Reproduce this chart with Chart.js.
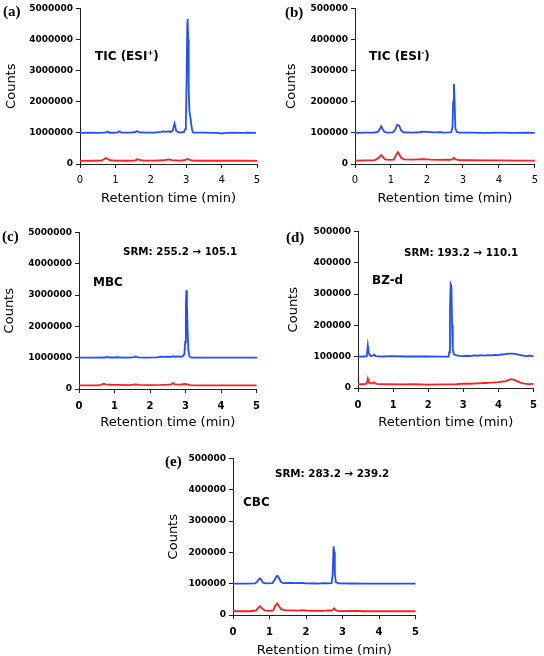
<!DOCTYPE html>
<html>
<head>
<meta charset="utf-8">
<script src="https://cdn.jsdelivr.net/npm/chart.js@4.4.0/dist/chart.umd.min.js"></script>
<style>
  body { margin: 0; background: #fff; }
  #wrap { position: relative; width: 544px; height: 656px; overflow: hidden; }
  .panel { position: absolute; }
  .lbl { position: absolute; font-family: "Liberation Serif", serif; font-weight: bold; font-size: 15px; transform: translateY(-50%); white-space: nowrap; }
  .note { position: absolute; font-family: "DejaVu Sans", sans-serif; font-weight: bold; color: #000; transform: translateY(-50%); white-space: nowrap; }
  .note sup { font-size: 7px; vertical-align: 5px; }
</style>
</head>
<body>
<div id="wrap">
  <div class="panel" id="pa"><canvas id="ca"></canvas></div>
  <div class="panel" id="pb"><canvas id="cb"></canvas></div>
  <div class="panel" id="pc"><canvas id="cc"></canvas></div>
  <div class="panel" id="pd"><canvas id="cd"></canvas></div>
  <div class="panel" id="pe"><canvas id="ce"></canvas></div>

  <div class="lbl" style="left:3px;top:11px">(a)</div>
  <div class="note" style="left:95px;top:56px;font-size:12px">TIC (ESI<sup>+</sup>)</div>

  <div class="lbl" style="left:285px;top:12px">(b)</div>
  <div class="note" style="left:369px;top:56px;font-size:12px">TIC (ESI<sup>-</sup>)</div>

  <div class="lbl" style="left:2px;top:236px">(c)</div>
  <div class="note" style="left:123px;top:251px;font-size:10.3px">SRM: 255.2 → 105.1</div>
  <div class="note" style="left:93px;top:282px;font-size:12px">MBC</div>

  <div class="lbl" style="left:286px;top:237px">(d)</div>
  <div class="note" style="left:404px;top:252px;font-size:10.3px">SRM: 193.2 → 110.1</div>
  <div class="note" style="left:372px;top:280px;font-size:12px">BZ-d</div>

  <div class="lbl" style="left:165px;top:461px">(e)</div>
  <div class="note" style="left:275px;top:473px;font-size:10.3px">SRM: 283.2 → 239.2</div>
  <div class="note" style="left:243px;top:502px;font-size:12px">CBC</div>
</div>
<script>
// tick values
const xTicks = [0, 1, 2, 3, 4, 5];
const yTicksBig = [0, 1000000, 2000000, 3000000, 4000000, 5000000];
const yTicksSmall = [0, 100000, 200000, 300000, 400000, 500000];

// (a) TIC ESI+  [time, counts]
const aBlue = [[0,1000000],[0.3,1005000],[0.5,1000000],[0.72,1005000],[0.78,1040000],[0.84,1005000],[1.05,1008000],[1.1,1050000],[1.16,1008000],[1.4,1005000],[1.55,1020000],[1.61,1060000],[1.68,1015000],[1.9,1005000],[2.1,1008000],[2.3,1030000],[2.36,1050000],[2.42,1030000],[2.5,1050000],[2.56,1030000],[2.62,1080000],[2.67,1300000],[2.72,1060000],[2.8,1010000],[2.9,1020000],[2.94,1030000],[2.97,1120000],[2.99,1250000],[3.01,2600000],[3.03,4500000],[3.04,4660000],[3.055,4000000],[3.07,2400000],[3.09,1700000],[3.11,1560000],[3.14,1300000],[3.17,1080000],[3.2,1010000],[3.5,1010000],[3.8,1000000],[3.95,990000],[4.0,975000],[4.05,995000],[4.3,1005000],[4.6,1000000],[4.75,1008000],[4.97,1002000]];
const aRed = [[0,100000],[0.3,105000],[0.6,110000],[0.68,150000],[0.73,190000],[0.78,160000],[0.85,120000],[1.0,110000],[1.3,105000],[1.55,110000],[1.62,150000],[1.68,130000],[1.8,108000],[2.1,110000],[2.35,120000],[2.5,145000],[2.6,125000],[2.8,110000],[2.95,120000],[3.03,160000],[3.1,130000],[3.2,110000],[3.5,105000],[4.0,110000],[4.3,105000],[4.7,105000],[5.0,100000],[5.15,100000]];

// (b) TIC ESI-
const bBlue = [[0,100000],[0.3,100500],[0.55,101000],[0.64,104000],[0.69,112000],[0.73,121000],[0.77,112000],[0.82,103000],[0.9,101000],[1.05,101500],[1.12,110000],[1.17,126000],[1.2,124000],[1.23,123000],[1.28,108000],[1.35,102000],[1.6,101000],[1.8,102000],[1.9,104000],[2.0,103000],[2.2,101500],[2.4,102500],[2.45,101000],[2.6,101500],[2.68,102000],[2.71,120000],[2.73,200000],[2.75,257000],[2.77,200000],[2.79,115000],[2.83,103000],[2.9,101000],[3.2,100500],[3.6,100000],[4.0,100500],[4.4,100000],[4.8,100500],[5.0,100000]];
const bRed = [[0,11000],[0.3,11500],[0.55,12500],[0.64,18000],[0.69,24000],[0.73,29000],[0.77,24000],[0.83,15000],[0.95,13000],[1.08,14000],[1.14,28000],[1.19,38000],[1.23,32000],[1.28,20000],[1.36,15000],[1.6,14000],[1.9,15500],[2.1,14000],[2.4,13000],[2.55,14000],[2.65,13000],[2.72,16000],[2.75,20000],[2.79,15000],[2.9,12500],[3.2,12000],[3.6,11500],[4.0,11500],[4.5,11000],[5.0,11000]];

// (c) MBC
const cBlue = [[0,1000000],[0.4,1000000],[0.75,1005000],[0.8,1030000],[0.85,1005000],[1.05,1005000],[1.08,1025000],[1.12,1005000],[1.4,1003000],[1.55,1020000],[1.6,1040000],[1.66,1010000],[1.9,1003000],[2.2,1008000],[2.3,1030000],[2.4,1025000],[2.5,1035000],[2.6,1025000],[2.65,1045000],[2.7,1030000],[2.8,1040000],[2.88,1030000],[2.93,1050000],[2.97,1120000],[2.99,1500000],[3.01,2700000],[3.025,3150000],[3.04,2700000],[3.06,1800000],[3.08,1250000],[3.11,1050000],[3.15,1005000],[3.5,1000000],[4.0,1000000],[4.5,1000000],[5.02,1000000]];
const cRed = [[0,115000],[0.5,118000],[0.62,130000],[0.69,170000],[0.76,145000],[0.9,135000],[1.1,130000],[1.4,125000],[1.6,148000],[1.7,130000],[2.0,125000],[2.3,130000],[2.5,140000],[2.6,150000],[2.65,190000],[2.7,150000],[2.85,140000],[2.98,160000],[3.05,150000],[3.12,125000],[3.4,118000],[4.0,115000],[4.5,115000],[5.0,115000]];

// (d) BZ-d
const dBlue = [[0,100000],[0.2,100500],[0.25,102000],[0.28,136000],[0.31,110000],[0.36,102000],[0.42,103000],[0.46,107000],[0.5,102000],[0.7,100500],[1.0,101500],[1.3,100500],[1.6,101000],[2.0,100500],[2.3,100000],[2.58,100500],[2.6,115000],[2.62,250000],[2.64,331000],[2.66,325000],[2.68,200000],[2.7,125000],[2.73,108000],[2.8,104000],[2.9,102500],[3.0,101500],[3.1,103000],[3.2,102000],[3.3,104000],[3.4,103000],[3.5,105000],[3.6,103500],[3.7,105000],[3.8,104000],[3.9,106000],[4.0,105000],[4.1,107000],[4.2,108000],[4.3,109500],[4.4,110000],[4.5,108500],[4.6,106000],[4.7,103500],[4.8,102000],[4.9,103000],[4.95,101500],[5.0,102000]];
const dRed = [[0,12000],[0.2,12500],[0.25,14000],[0.28,30000],[0.31,17000],[0.38,14000],[0.46,18000],[0.52,13000],[0.8,12000],[1.2,11500],[1.6,12000],[2.0,11000],[2.4,11500],[2.8,12000],[3.0,14000],[3.2,13500],[3.4,15000],[3.6,16000],[3.8,17000],[4.0,19000],[4.2,22000],[4.3,26000],[4.37,28000],[4.45,26000],[4.55,21000],[4.65,16000],[4.75,14000],[4.85,12500],[5.0,13000]];

// (e) CBC
const eBlue = [[0,100000],[0.4,100000],[0.6,101000],[0.66,106000],[0.71,114000],[0.74,117000],[0.77,113000],[0.82,103000],[0.9,101000],[1.08,102000],[1.14,112000],[1.19,124000],[1.22,125000],[1.26,118000],[1.31,106000],[1.38,101500],[1.6,102500],[1.7,101500],[1.9,102500],[2.0,101000],[2.3,100500],[2.5,102000],[2.6,101000],[2.7,102000],[2.73,130000],[2.755,219000],[2.775,200000],[2.79,130000],[2.82,104000],[2.9,101000],[3.2,100500],[3.6,100000],[4.0,100000],[4.5,100000],[5.0,100000]];
const eRed = [[0,12000],[0.5,12000],[0.63,15000],[0.7,24000],[0.74,28000],[0.79,22000],[0.86,15000],[1.0,13500],[1.1,15000],[1.16,30000],[1.21,37000],[1.26,28000],[1.32,18000],[1.45,14500],[1.6,15000],[1.8,14000],[1.9,15500],[2.1,13500],[2.5,13000],[2.6,14500],[2.7,14000],[2.74,18000],[2.77,21000],[2.81,15000],[2.9,12500],[3.4,13000],[3.6,12000],[4.0,12000],[4.5,12000],[5.0,12000]];

// ve mot panel
function veChart(id, box, blue, red, yMax, yTicks, xBold) {
    const padTop = Math.min(8, box.T);
    const holder = document.getElementById("p" + id);
    holder.style.left = (box.L - box.yW) + "px";
    holder.style.top = (box.T - padTop) + "px";
    holder.style.width = (box.R - box.L + box.yW + box.padR) + "px";
    holder.style.height = (box.B - box.T + padTop + box.xH) + "px";

    const axisGrid = { display: true, drawOnChartArea: false, drawTicks: true, tickLength: 4, color: "#222" };

    new Chart(document.getElementById("c" + id), {
        type: "line",
        data: {
            datasets: [
                { data: blue, borderColor: "#1f4fff", borderWidth: 1.8, pointRadius: 0, tension: 0, clip: false },
                { data: red, borderColor: "#ff1f1f", borderWidth: 1.8, pointRadius: 0, tension: 0, clip: false },
            ],
        },
        options: {
            responsive: true,
            maintainAspectRatio: false,
            devicePixelRatio: 1,
            animation: false,
            layout: { autoPadding: false, padding: { top: padTop, right: box.padR, left: 0, bottom: 0 } },
            plugins: { legend: { display: false }, tooltip: { enabled: false } },
            scales: {
                x: {
                    type: "linear",
                    min: 0,
                    max: 5,
                    grid: axisGrid,
                    border: { display: true, color: "#222", width: 1 },
                    afterBuildTicks: (s) => { s.ticks = xTicks.map((v) => ({ value: v })); },
                    afterFit: (s) => { s.height = box.xH; },
                    ticks: {
                        color: "#000",
                        padding: box.tickPad,
                        maxRotation: 0,
                        font: { family: "DejaVu Sans", size: 10, weight: xBold ? "bold" : "normal" },
                        callback: (v) => String(v),
                    },
                    title: {
                        display: true,
                        text: "Retention time (min)",
                        color: "#000",
                        padding: { top: 0, bottom: 4 },
                        font: { family: "DejaVu Sans", size: 13 },
                    },
                },
                y: {
                    min: 0,
                    max: yMax,
                    grid: axisGrid,
                    border: { display: true, color: "#222", width: 1 },
                    afterBuildTicks: (s) => { s.ticks = yTicks.map((v) => ({ value: v })); },
                    afterFit: (s) => { s.width = box.yW; },
                    ticks: {
                        color: "#000",
                        padding: 3,
                        font: { family: "DejaVu Sans", size: 9, weight: "bold" },
                        callback: (v) => String(v),
                    },
                    title: {
                        display: true,
                        text: "Counts",
                        color: "#000",
                        padding: { top: 4, bottom: 0 },
                        font: { family: "DejaVu Sans", size: 13 },
                    },
                },
            },
        },
    });
}

veChart("a", { L: 80, R: 257, T: 6, B: 164, yW: 80, xH: 46, padR: 10, tickPad: 6 }, aBlue, aRed, 5000000, yTicksBig, false);
veChart("b", { L: 355, R: 539, T: 6, B: 164, yW: 75, xH: 46, padR: 5, tickPad: 6 }, bBlue, bRed, 500000, yTicksSmall, false);
veChart("c", { L: 79, R: 257, T: 232, B: 389, yW: 81, xH: 45, padR: 10, tickPad: 7 }, cBlue, cRed, 5000000, yTicksBig, true);
veChart("d", { L: 358, R: 540, T: 231, B: 388, yW: 76, xH: 46, padR: 4, tickPad: 7 }, dBlue, dRed, 500000, yTicksSmall, true);
veChart("e", { L: 233, R: 416, T: 458, B: 615, yW: 71, xH: 47, padR: 10, tickPad: 7 }, eBlue, eRed, 500000, yTicksSmall, true);
</script>
</body>
</html>
